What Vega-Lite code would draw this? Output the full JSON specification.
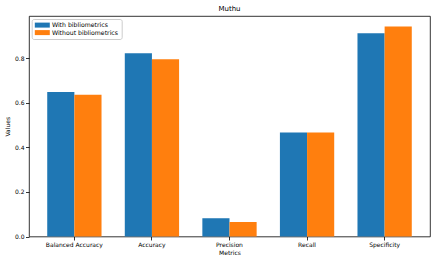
{
  "$schema": "https://vega.github.io/schema/vega-lite/v6.json",
  "autosize": "none",
  "width": 401,
  "height": 220.5,
  "padding": {"left": 29, "top": 16, "right": 6, "bottom": 25.5},
  "background": "white",
  "title": {"text": "Muthu", "fontSize": 7, "fontWeight": "normal", "font": "DejaVu Sans", "color": "black", "offset": 4, "anchor": "middle"},
  "config": {
    "font": "DejaVu Sans",
    "view": {"stroke": "black", "strokeWidth": 0.8},
    "axis": {"grid": false, "domain": false, "tickColor": "black", "tickSize": 3.5, "tickWidth": 0.8, "labelFontSize": 6, "labelColor": "black", "titleFontSize": 6, "titleFontWeight": "normal", "titleColor": "black", "labelFont": "DejaVu Sans", "titleFont": "DejaVu Sans"}
  },
  "data": {"values": [
    {"metric": "Balanced Accuracy", "group": "With bibliometrics", "value": 0.649},
    {"metric": "Balanced Accuracy", "group": "Without bibliometrics", "value": 0.636},
    {"metric": "Accuracy", "group": "With bibliometrics", "value": 0.823},
    {"metric": "Accuracy", "group": "Without bibliometrics", "value": 0.796},
    {"metric": "Precision", "group": "With bibliometrics", "value": 0.082},
    {"metric": "Precision", "group": "Without bibliometrics", "value": 0.065},
    {"metric": "Recall", "group": "With bibliometrics", "value": 0.467},
    {"metric": "Recall", "group": "Without bibliometrics", "value": 0.467},
    {"metric": "Specificity", "group": "With bibliometrics", "value": 0.913},
    {"metric": "Specificity", "group": "Without bibliometrics", "value": 0.943}
  ]},
  "mark": {"type": "bar"},
  "encoding": {
    "x": {"field": "metric", "type": "nominal", "sort": ["Balanced Accuracy", "Accuracy", "Precision", "Recall", "Specificity"],
      "scale": {"paddingInner": 0.3, "paddingOuter": 0.235},
      "axis": {"title": "Metrics", "labelAngle": 0, "labelPadding": 1.5, "titlePadding": 1.5}},
    "xOffset": {"field": "group", "type": "nominal", "scale": {"paddingInner": 0, "paddingOuter": 0}},
    "y": {"field": "value", "type": "quantitative", "scale": {"domain": [0, 0.99], "nice": false},
      "axis": {"title": "Values", "values": [0, 0.2, 0.4, 0.6, 0.8], "format": ".1f", "labelPadding": 1.5, "titlePadding": 4}},
    "color": {"field": "group", "type": "nominal",
      "scale": {"domain": ["With bibliometrics", "Without bibliometrics"], "range": ["#1f77b4", "#ff7f0e"]},
      "legend": {"title": null, "orient": "none", "legendX": 2.7, "legendY": 3, "direction": "vertical",
        "padding": 3, "strokeColor": "#cccccc", "fillColor": "white", "cornerRadius": 2,
        "symbolType": "M-1,-0.833H4V0.833H-1Z", "symbolSize": 36, "symbolStrokeWidth": 0, "symbolOpacity": 1,
        "labelFontSize": 6.2, "labelOffset": 11, "rowPadding": 0.5, "labelColor": "black", "labelFont": "DejaVu Sans"}}
  }
}
